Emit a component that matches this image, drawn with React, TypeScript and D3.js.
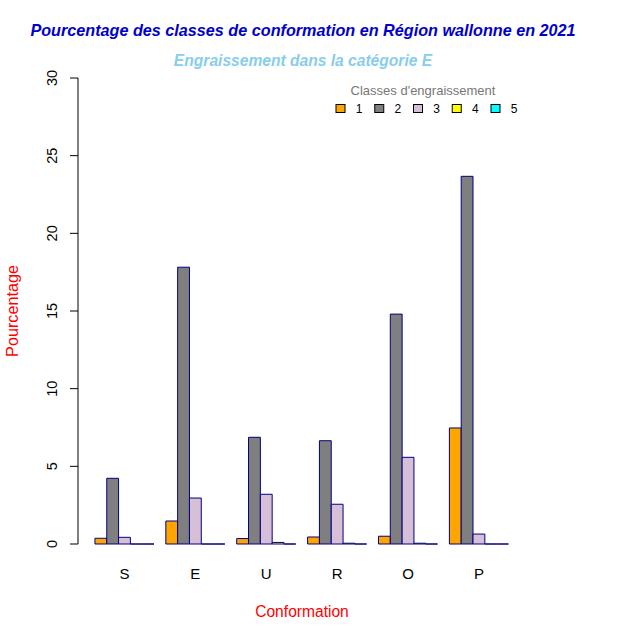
import * as d3 from 'd3';

const conformations = ['S', 'E', 'U', 'R', 'O', 'P'];
const classes = ['1', '2', '3', '4', '5'];
const classColors = ['#FFA500', '#7F7F7F', '#D8BFD8', '#FFFF00', '#00FFFF'];

// pourcentage par classe d'engraissement (1..5) pour chaque conformation
const classe1 = [0.37, 1.48, 0.35, 0.45, 0.5, 7.47];
const classe2 = [4.23, 17.82, 6.87, 6.65, 14.8, 23.67];
const classe3 = [0.43, 2.96, 3.2, 2.56, 5.58, 0.64];
const classe4 = [0, 0, 0.1, 0.05, 0.05, 0];
const classe5 = [0, 0, 0, 0, 0, 0];
const yTicks = [0, 5, 10, 15, 20, 25, 30];

const series = [classe1, classe2, classe3, classe4, classe5];

const W = 643;
const H = 642;
const font = 'Arial, "Liberation Sans", sans-serif';

const App = () => {
  // bar units à la barplot(beside=TRUE): 1 gap + 5 bars per group
  const nUnits = conformations.length * (classes.length + 1);
  const span = nUnits - 1;
  const x = d3.scaleLinear()
    .domain([1 - span * 0.04, nUnits + span * 0.04])
    .range([78.4, 525]);
  const y = d3.scaleLinear().domain([0, 30]).range([544, 78]);

  const bars: { x0: number; x1: number; v: number; fill: string; key: string }[] = [];
  conformations.forEach((c, gi) => {
    series.forEach((s, ci) => {
      const u = 1 + gi * (classes.length + 1) + ci;
      bars.push({ x0: x(u), x1: x(u + 1), v: s[gi], fill: classColors[ci], key: c + ci });
    });
  });

  const groupCenter = (gi: number) => x(1 + gi * (classes.length + 1) + classes.length / 2);

  const legendX = d3.scaleLinear().domain([0, 4]).range([336, 491]);

  return (
    <svg width={W} height={H} style={{ position: 'absolute', left: 0, top: 0 }} fontFamily={font}>
      <rect width={W} height={H} fill="#fff" />
      <text x={303} y={36} textAnchor="middle" fontSize={16.2} fontWeight="bold" fontStyle="italic" fill="#0000CD">
        Pourcentage des classes de conformation en Région wallonne en 2021
      </text>
      <text x={303} y={66} textAnchor="middle" fontSize={15.6} fontWeight="bold" fontStyle="italic" fill="#87CEEB">
        Engraissement dans la catégorie E
      </text>

      {bars.map(b => (
        <path
          key={b.key}
          d={`M${b.x0},${y(0)}H${b.x1}V${y(b.v)}H${b.x0}Z`}
          fill={b.fill}
          stroke="#000080"
          strokeWidth={1}
        />
      ))}

      {/* y axis */}
      <line x1={78} x2={78} y1={y(0)} y2={y(30)} stroke="#000" />
      {yTicks.map(t => (
        <g key={t}>
          <line x1={70} x2={78} y1={y(t)} y2={y(t)} stroke="#000" />
          <text
            transform={`translate(57,${y(t)}) rotate(-90)`}
            textAnchor="middle"
            fontSize={14.5}
            fill="#000"
          >
            {t}
          </text>
        </g>
      ))}

      {conformations.map((c, gi) => (
        <text key={c} x={groupCenter(gi)} y={579} textAnchor="middle" fontSize={15} fill="#000">
          {c}
        </text>
      ))}

      <text x={302} y={617} textAnchor="middle" fontSize={15.6} fill="#FF0000">Conformation</text>
      <text transform="translate(18,311) rotate(-90)" textAnchor="middle" fontSize={16.2} fill="#FF0000">
        Pourcentage
      </text>

      {/* legend */}
      <text x={423} y={95} textAnchor="middle" fontSize={13} fill="#777">Classes d'engraissement</text>
      {classes.map((c, i) => (
        <g key={c}>
          <rect x={legendX(i)} y={104.5} width={9} height={8} fill={classColors[i]} stroke="#000" />
          <text x={legendX(i) + 23} y={113} textAnchor="middle" fontSize={12} fill="#000">{c}</text>
        </g>
      ))}
    </svg>
  );
};

export default App;
